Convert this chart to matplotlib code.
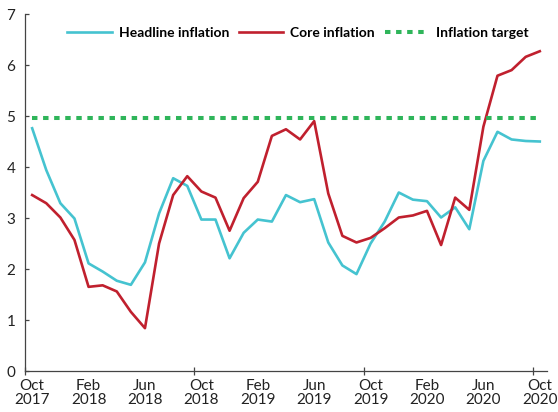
import matplotlib.pyplot as plt
from matplotlib.ticker import FixedLocator

# monthly values, Oct 2017 .. Oct 2020
months = ['Oct\n2017', 'Nov\n2017', 'Dec\n2017', 'Jan\n2018', 'Feb\n2018', 'Mar\n2018', 'Apr\n2018', 'May\n2018',
          'Jun\n2018', 'Jul\n2018', 'Aug\n2018', 'Sep\n2018', 'Oct\n2018', 'Nov\n2018', 'Dec\n2018', 'Jan\n2019',
          'Feb\n2019', 'Mar\n2019', 'Apr\n2019', 'May\n2019', 'Jun\n2019', 'Jul\n2019', 'Aug\n2019', 'Sep\n2019',
          'Oct\n2019', 'Nov\n2019', 'Dec\n2019', 'Jan\n2020', 'Feb\n2020', 'Mar\n2020', 'Apr\n2020', 'May\n2020',
          'Jun\n2020', 'Jul\n2020', 'Aug\n2020', 'Sep\n2020', 'Oct\n2020']

headline = [4.76, 3.94, 3.29, 2.99, 2.11, 1.95, 1.77, 1.69, 2.13, 3.09, 3.78, 3.63,
            2.97, 2.97, 2.21, 2.71, 2.97, 2.93, 3.45, 3.31, 3.37, 2.52, 2.07, 1.90,
            2.50, 2.93, 3.50, 3.36, 3.33, 3.01, 3.21, 2.78, 4.12, 4.69, 4.54, 4.51, 4.50]

core = [3.45, 3.29, 3.01, 2.57, 1.65, 1.68, 1.56, 1.16, 0.84, 2.50, 3.45, 3.82,
        3.52, 3.40, 2.75, 3.39, 3.71, 4.61, 4.74, 4.54, 4.90, 3.48, 2.65, 2.52,
        2.61, 2.80, 3.01, 3.05, 3.14, 2.47, 3.40, 3.16, 4.79, 5.79, 5.90, 6.16, 6.27]

target = [4.97] * len(months)

HEAD_COL = '#45c3d0'
CORE_COL = '#c0202e'
TARGET_COL = '#2fb55a'

plt.rcParams['font.family'] = ['Lato', 'DejaVu Sans']

fig = plt.figure(figsize=(5.58, 4.12), dpi=100)
ax = fig.add_axes([0.045, 0.0995, 0.935, 0.8665])

x = [i + 0.5 for i in range(len(months))]
ax.plot(x, headline, color=HEAD_COL, lw=1.9, label='Headline inflation')
ax.plot(x, core, color=CORE_COL, lw=1.9, label='Core inflation')
ax.plot(x, target, color=TARGET_COL, lw=2.9, linestyle=(0, (1.35, 1.4)), label='Inflation target')

ax.set_xlim(0, 37)
ax.set_ylim(0, 7)
ax.set_yticks(range(8))

ax.xaxis.set_major_locator(FixedLocator([0, 12, 24, 36]))
ax.xaxis.set_major_formatter(plt.NullFormatter())
ax.xaxis.set_minor_locator(FixedLocator(x[::4]))
ax.set_xticklabels(months[::4], minor=True)

ax.tick_params(axis='x', which='major', direction='inout', length=6, width=0.9, color='#444444')
ax.tick_params(axis='x', which='minor', length=0, pad=6, labelsize=11, colors='#222222')
ax.tick_params(axis='y', direction='in', length=3, width=0.9, color='#444444', pad=7, labelsize=11, labelcolor='#222222')
for lbl in ax.get_xticklabels(minor=True):
    lbl.set_linespacing(1.0)

for s in ['top', 'right']:
    ax.spines[s].set_visible(False)
for s in ['left', 'bottom']:
    ax.spines[s].set_color('#444444')
    ax.spines[s].set_linewidth(0.9)

ax.legend(loc='upper center', bbox_to_anchor=(0.523, 1.0), ncol=3, frameon=False,
          prop={'weight': 'bold', 'size': 10}, handlelength=3.2, columnspacing=0.7,
          handletextpad=0.5)

fig.savefig('out.png', dpi=100)
